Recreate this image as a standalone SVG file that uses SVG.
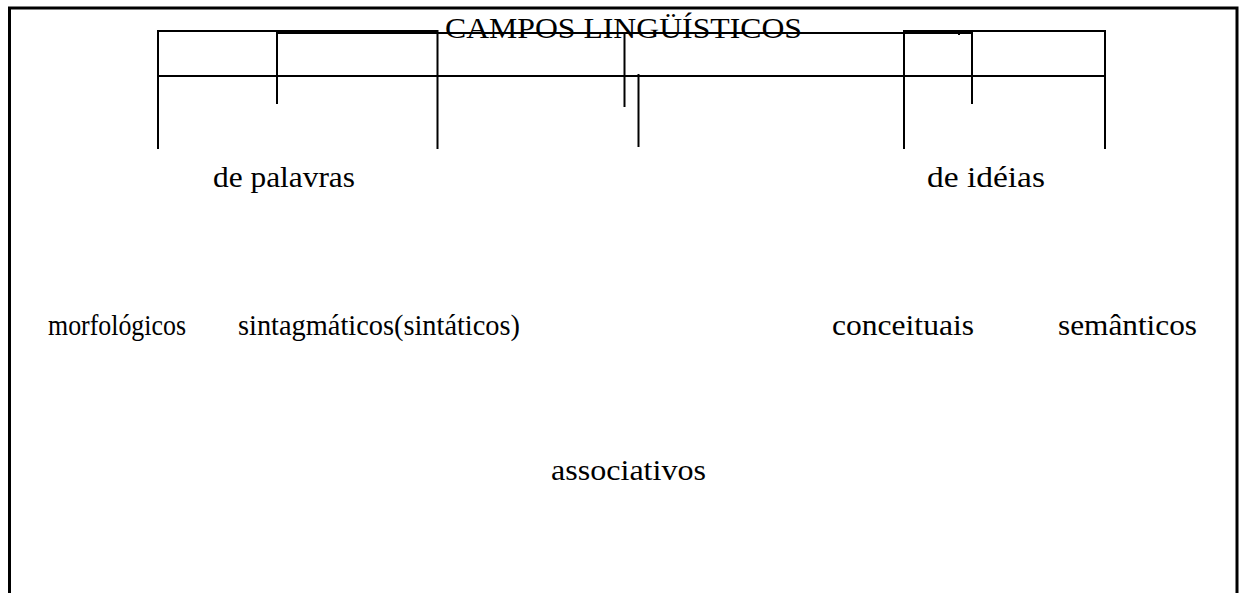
<svg xmlns="http://www.w3.org/2000/svg" width="1239" height="593" viewBox="0 0 1239 593">
<style>
.ln{stroke:#000;stroke-width:2;fill:none}
.fr{stroke:#000;stroke-width:3;fill:none}
.t{font-family:"Liberation Serif","Times New Roman",serif;font-size:30px;fill:#000}
</style>
<rect width="1239" height="593" fill="#fff"/>
<g id="connectors">
<path class="fr" d="M9.5,593 V8 H1237 V593"/>
<path class="ln" d="M158,149 V31 H437.5 V149"/>
<path class="ln" d="M158,76 H1105"/>
<path class="ln" d="M277,104 V33 H972 V104"/>
<path class="ln" d="M624.5,33 V107"/>
<path class="ln" d="M638.5,74 V147"/>
<path class="ln" d="M904,149 V31 H1105 V149"/>
<path class="ln" d="M959,32 V35"/>
</g>
<g id="title"><text class="t" x="445" y="38" textLength="357" lengthAdjust="spacingAndGlyphs">CAMPOS LINGÜÍSTICOS</text></g>
<g id="de-palavras"><text class="t" x="213" y="187" textLength="142" lengthAdjust="spacingAndGlyphs">de palavras</text></g>
<g id="de-ideias"><text class="t" x="927" y="187" textLength="118" lengthAdjust="spacingAndGlyphs">de idéias</text></g>
<g id="morfologicos"><text class="t" x="48" y="335" textLength="138" lengthAdjust="spacingAndGlyphs">morfológicos</text></g>
<g id="sintagmaticos"><text class="t" x="238" y="335" textLength="282" lengthAdjust="spacingAndGlyphs">sintagmáticos(sintáticos)</text></g>
<g id="conceituais"><text class="t" x="832" y="335" textLength="142" lengthAdjust="spacingAndGlyphs">conceituais</text></g>
<g id="semanticos"><text class="t" x="1058" y="335" textLength="139" lengthAdjust="spacingAndGlyphs">semânticos</text></g>
<g id="associativos"><text class="t" x="551" y="480" textLength="155" lengthAdjust="spacingAndGlyphs">associativos</text></g>
</svg>
